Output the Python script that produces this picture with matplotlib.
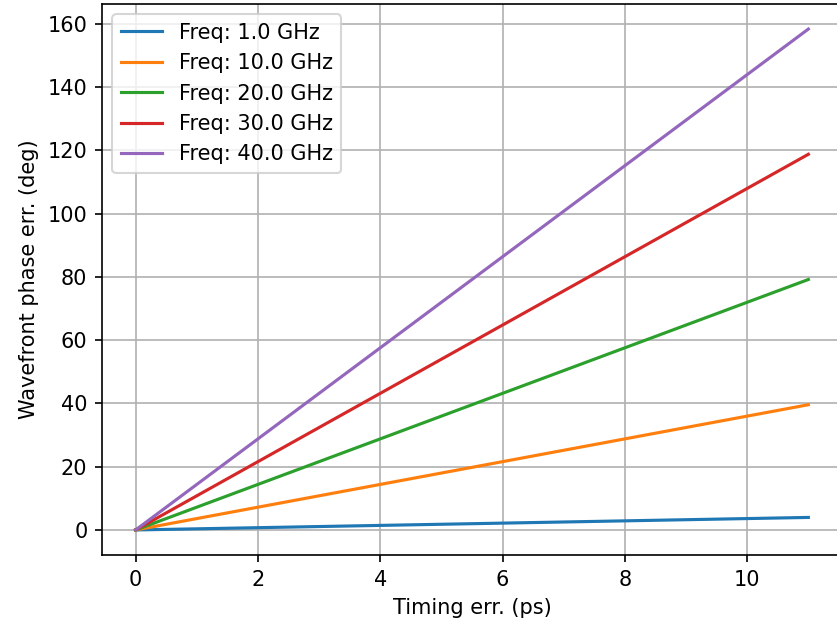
import matplotlib
matplotlib.use("Agg")
import matplotlib.pyplot as plt

# timing error (ps), endpoints of each straight line
timing = [0, 11]
freqs = [1.0, 10.0, 20.0, 30.0, 40.0]
phase_1 = [0, 3.96]
phase_10 = [0, 39.6]
phase_20 = [0, 79.2]
phase_30 = [0, 118.8]
phase_40 = [0, 158.4]
phases = [phase_1, phase_10, phase_20, phase_30, phase_40]

dpi = 150
fig = plt.figure(figsize=(837 / dpi, 620 / dpi), dpi=dpi)
ax = fig.add_axes([102 / 837, 1 - 555 / 620, (842 - 102) / 837, (555 - 4) / 620])
for f, ph in zip(freqs, phases):
    ax.plot(timing, ph, label=f"Freq: {f} GHz")
ax.set_xlabel("Timing err. (ps)")
ax.set_ylabel("Wavefront phase err. (deg)")
ax.grid(True)
ax.legend(loc="upper left")
fig.savefig("out.png", dpi=dpi)
